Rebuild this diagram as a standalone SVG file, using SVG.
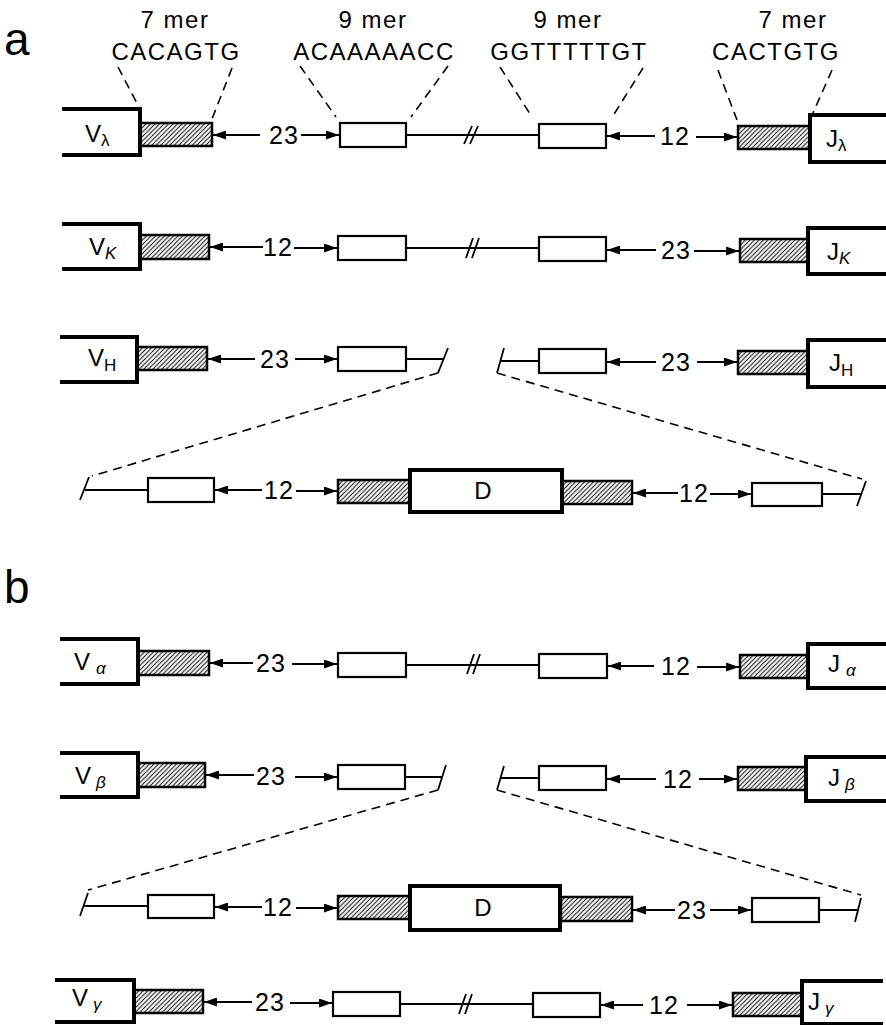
<svg xmlns="http://www.w3.org/2000/svg" width="886" height="1025" viewBox="0 0 886 1025">
<defs>
<pattern id="hatch" patternUnits="userSpaceOnUse" width="4.5" height="4.5">
<path d="M-1,1 l2,-2 M0,4.5 l4.5,-4.5 M3.5,5.5 l2,-2" stroke="#000" stroke-width="1"/>
</pattern>
<marker id="ah" markerUnits="userSpaceOnUse" markerWidth="13" markerHeight="9" refX="13" refY="4.5" orient="auto">
<path d="M0,0 L13,4.5 L0,9 z" fill="#000"/>
</marker>
</defs>
<style>
text{font-family:"Liberation Sans",Arial,sans-serif;fill:#000}
.big{font-size:46px}
.hd{font-size:24px;text-anchor:middle;letter-spacing:1.5px}
.num{font-size:25px;text-anchor:middle;letter-spacing:1px}
.lab{font-size:24px}
.sub{font-size:17px}
.gene{fill:#fff;stroke:#000;stroke-width:4}
.gl{fill:none;stroke:#000;stroke-width:4}
.hb{fill:url(#hatch);stroke:#000;stroke-width:2.5}
.nb{fill:#fff;stroke:#000;stroke-width:2.2}
.ln{fill:none;stroke:#000;stroke-width:1.8}
.ar{stroke:#000;stroke-width:2.2;marker-end:url(#ah)}
.ds{fill:none;stroke:#000;stroke-width:1.6;stroke-dasharray:9,6}
</style>
<rect width="886" height="1025" fill="#fff"/>

<g id="panel-labels">
<text class="big" x="4" y="55">a</text>
<text class="big" x="4" y="603">b</text>
</g>

<g id="motif-labels">
<text class="hd" x="175" y="28">7 mer</text>
<text class="hd" x="176" y="60">CACAGTG</text>
<text class="hd" x="373" y="28">9 mer</text>
<text class="hd" x="374" y="60">ACAAAAACC</text>
<text class="hd" x="568" y="28">9 mer</text>
<text class="hd" x="569" y="60">GGTTTTTGT</text>
<text class="hd" x="793" y="28">7 mer</text>
<text class="hd" x="776" y="60">CACTGTG</text>
</g>

<!-- Row a1: V lambda -->
<g id="V-lambda"><path class="gl" d="M62,109 H140 V155 H62"/><text class="lab" x="85" y="142">V<tspan class="sub" dy="4">λ</tspan></text></g>
<g id="hep-a1-L"><rect class="hb" x="140" y="123" width="72" height="23"/></g>
<g id="non-a1-L"><rect class="nb" x="340" y="123" width="66" height="24"/></g>
<g id="non-a1-R"><rect class="nb" x="539" y="124" width="67" height="24"/></g>
<g id="hep-a1-R"><rect class="hb" x="738" y="126" width="72" height="23"/></g>
<g id="J-lambda"><path class="gl" d="M886,115 H810 V162 H886"/><text class="lab" x="826" y="147">J<tspan class="sub" dy="4">λ</tspan></text></g>

<!-- Row a2: V kappa -->
<g id="V-kappa"><path class="gl" d="M62,224 H140 V269 H62"/><text class="lab" x="89" y="255">V<tspan class="sub" dy="4" font-style="italic">K</tspan></text></g>
<g id="hep-a2-L"><rect class="hb" x="140" y="235" width="69" height="24"/></g>
<g id="non-a2-L"><rect class="nb" x="338" y="236" width="68" height="24"/></g>
<g id="non-a2-R"><rect class="nb" x="539" y="237" width="67" height="24"/></g>
<g id="hep-a2-R"><rect class="hb" x="740" y="239" width="68" height="23"/></g>
<g id="J-kappa"><path class="gl" d="M886,228 H808 V274 H886"/><text class="lab" x="827" y="260">J<tspan class="sub" dy="4" font-style="italic">K</tspan></text></g>

<!-- Row a3: V H -->
<g id="V-H"><path class="gl" d="M60,337 H137 V382 H60"/><text class="lab" x="88" y="366">V<tspan class="sub" dy="5">H</tspan></text></g>
<g id="hep-a3-L"><rect class="hb" x="137" y="347" width="70" height="23"/></g>
<g id="non-a3-L"><rect class="nb" x="338" y="347" width="68" height="24"/></g>
<g id="non-a3-R"><rect class="nb" x="539" y="349" width="67" height="24"/></g>
<g id="hep-a3-R"><rect class="hb" x="738" y="351" width="70" height="23"/></g>
<g id="J-H"><path class="gl" d="M886,340 H808 V387 H886"/><text class="lab" x="829" y="371">J<tspan class="sub" dy="5">H</tspan></text></g>

<!-- Row a4: D heavy -->
<g id="non-a4-L"><rect class="nb" x="148" y="478" width="66" height="24"/></g>
<g id="hep-a4-L"><rect class="hb" x="338" y="480" width="72" height="23"/></g>
<g id="D-H"><rect class="gene" x="410" y="470" width="152" height="42"/><text class="lab" x="483" y="499" text-anchor="middle">D</text></g>
<g id="hep-a4-R"><rect class="hb" x="562" y="481" width="70" height="23"/></g>
<g id="non-a4-R"><rect class="nb" x="752" y="483" width="70" height="23"/></g>

<!-- Row b1: V alpha -->
<g id="V-alpha"><path class="gl" d="M60,639 H138 V684 H60"/><text class="lab" x="74" y="670">V<tspan class="sub" dx="6" dy="4" font-style="italic">α</tspan></text></g>
<g id="hep-b1-L"><rect class="hb" x="138" y="651" width="71" height="24"/></g>
<g id="non-b1-L"><rect class="nb" x="338" y="653" width="68" height="24"/></g>
<g id="non-b1-R"><rect class="nb" x="539" y="654" width="68" height="24"/></g>
<g id="hep-b1-R"><rect class="hb" x="740" y="655" width="68" height="23"/></g>
<g id="J-alpha"><path class="gl" d="M886,644 H808 V688 H886"/><text class="lab" x="828" y="672">J<tspan class="sub" dx="6" dy="4" font-style="italic">α</tspan></text></g>

<!-- Row b2: V beta -->
<g id="V-beta"><path class="gl" d="M60,753 H138 V797 H60"/><text class="lab" x="75" y="784">V<tspan class="sub" dx="5" dy="4" font-style="italic">β</tspan></text></g>
<g id="hep-b2-L"><rect class="hb" x="138" y="763" width="67" height="24"/></g>
<g id="non-b2-L"><rect class="nb" x="338" y="765" width="67" height="24"/></g>
<g id="non-b2-R"><rect class="nb" x="539" y="766" width="67" height="24"/></g>
<g id="hep-b2-R"><rect class="hb" x="738" y="767" width="68" height="23"/></g>
<g id="J-beta"><path class="gl" d="M886,757 H806 V801 H886"/><text class="lab" x="828" y="786">J<tspan class="sub" dx="5" dy="4" font-style="italic">β</tspan></text></g>

<!-- Row b3: D beta -->
<g id="non-b3-L"><rect class="nb" x="148" y="895" width="66" height="23"/></g>
<g id="hep-b3-L"><rect class="hb" x="338" y="896" width="72" height="23"/></g>
<g id="D-beta"><rect class="gene" x="410" y="886" width="150" height="44"/><text class="lab" x="483" y="916" text-anchor="middle">D</text></g>
<g id="hep-b3-R"><rect class="hb" x="561" y="897" width="71" height="24"/></g>
<g id="non-b3-R"><rect class="nb" x="752" y="898" width="67" height="24"/></g>

<!-- Row b4: V gamma -->
<g id="V-gamma"><path class="gl" d="M55,980 H134 V1022 H55"/><text class="lab" x="72" y="1006">V<tspan class="sub" dx="5" dy="4" font-style="italic">γ</tspan></text></g>
<g id="hep-b4-L"><rect class="hb" x="134" y="990" width="69" height="23"/></g>
<g id="non-b4-L"><rect class="nb" x="333" y="992" width="67" height="24"/></g>
<g id="non-b4-R"><rect class="nb" x="533" y="993" width="67" height="24"/></g>
<g id="hep-b4-R"><rect class="hb" x="733" y="993" width="69" height="23"/></g>
<g id="J-gamma"><path class="gl" d="M883,981 H802 V1024 H883"/><text class="lab" x="808" y="1010">J<tspan class="sub" dx="5" dy="4" font-style="italic">γ</tspan></text></g>

<g id="connectors">
<!-- motif dashed leaders -->
<path class="ds" d="M118,67 L140,109 M232,68 L212,119 M300,66 L336,117 M448,66 L411,117 M500,67 L532,117 M643,68 L611,119 M718,70 L737,120 M832,70 L813,113"/>

<!-- a1 -->
<line class="ar" x1="260" y1="135" x2="213" y2="135"/>
<text class="num" x="284" y="144">23</text>
<line class="ar" x1="301" y1="135" x2="339" y2="135"/>
<path class="ln" d="M406,135 H539"/>
<path class="ln" d="M464,144 L472,126 M470,144 L478,126"/>
<line class="ar" x1="655" y1="136" x2="607" y2="136"/>
<text class="num" x="675" y="145">12</text>
<line class="ar" x1="696" y1="137" x2="737" y2="137"/>

<!-- a2 -->
<line class="ar" x1="263" y1="247" x2="210" y2="247"/>
<text class="num" x="278" y="256">12</text>
<line class="ar" x1="294" y1="248" x2="337" y2="248"/>
<path class="ln" d="M406,248 H539"/>
<path class="ln" d="M466,258 L473,238 M472,258 L479,238"/>
<line class="ar" x1="656" y1="250" x2="607" y2="250"/>
<text class="num" x="676" y="259">23</text>
<line class="ar" x1="694" y1="251" x2="739" y2="251"/>

<!-- a3 -->
<line class="ar" x1="255" y1="359" x2="208" y2="359"/>
<text class="num" x="275" y="368">23</text>
<line class="ar" x1="295" y1="359" x2="337" y2="359"/>
<path class="ln" d="M406,359 H443 M438,373 L448,348"/>
<path class="ln" d="M497,373 L504,348 M501,361 H539"/>
<line class="ar" x1="656" y1="362" x2="607" y2="362"/>
<text class="num" x="676" y="371">23</text>
<line class="ar" x1="697" y1="362" x2="737" y2="362"/>

<!-- a cut-outs -->
<path class="ds" d="M438,373 L92,476 M497,373 L862,479"/>

<!-- a4 -->
<path class="ln" d="M80,500 L89,477 M85,490 H148"/>
<line class="ar" x1="262" y1="490" x2="215" y2="490"/>
<text class="num" x="279" y="499">12</text>
<line class="ar" x1="296" y1="491" x2="337" y2="491"/>
<line class="ar" x1="678" y1="493" x2="633" y2="493"/>
<text class="num" x="694" y="502">12</text>
<line class="ar" x1="710" y1="494" x2="751" y2="494"/>
<path class="ln" d="M822,494 H861 M857,506 L866,481"/>

<!-- b1 -->
<line class="ar" x1="253" y1="663" x2="210" y2="663"/>
<text class="num" x="271" y="672">23</text>
<line class="ar" x1="292" y1="664" x2="337" y2="664"/>
<path class="ln" d="M406,665 H539"/>
<path class="ln" d="M467,674 L474,654 M473,674 L480,654"/>
<line class="ar" x1="654" y1="666" x2="608" y2="666"/>
<text class="num" x="676" y="675">12</text>
<line class="ar" x1="697" y1="667" x2="739" y2="667"/>

<!-- b2 -->
<line class="ar" x1="254" y1="775" x2="206" y2="775"/>
<text class="num" x="271" y="785">23</text>
<line class="ar" x1="295" y1="777" x2="337" y2="777"/>
<path class="ln" d="M405,777 H442 M438,790 L446,765"/>
<path class="ln" d="M497,790 L504,766 M501,778 H539"/>
<line class="ar" x1="656" y1="779" x2="607" y2="779"/>
<text class="num" x="678" y="788">12</text>
<line class="ar" x1="699" y1="779" x2="737" y2="779"/>

<!-- b cut-outs -->
<path class="ds" d="M438,790 L88,890 M497,790 L861,895"/>

<!-- b3 -->
<path class="ln" d="M80,916 L88,893 M84,906 H148"/>
<line class="ar" x1="262" y1="907" x2="215" y2="907"/>
<text class="num" x="278" y="916">12</text>
<line class="ar" x1="296" y1="908" x2="337" y2="908"/>
<line class="ar" x1="675" y1="910" x2="633" y2="910"/>
<text class="num" x="692" y="919">23</text>
<line class="ar" x1="710" y1="910" x2="751" y2="910"/>
<path class="ln" d="M819,910 H858 M855,922 L861,898"/>

<!-- b4 -->
<line class="ar" x1="252" y1="1002" x2="204" y2="1002"/>
<text class="num" x="270" y="1011">23</text>
<line class="ar" x1="290" y1="1003" x2="332" y2="1003"/>
<path class="ln" d="M400,1004 H533"/>
<path class="ln" d="M459,1014 L466,994 M465,1014 L472,994"/>
<line class="ar" x1="643" y1="1005" x2="601" y2="1005"/>
<text class="num" x="664" y="1014">12</text>
<line class="ar" x1="687" y1="1005" x2="732" y2="1005"/>
</g>
</svg>
